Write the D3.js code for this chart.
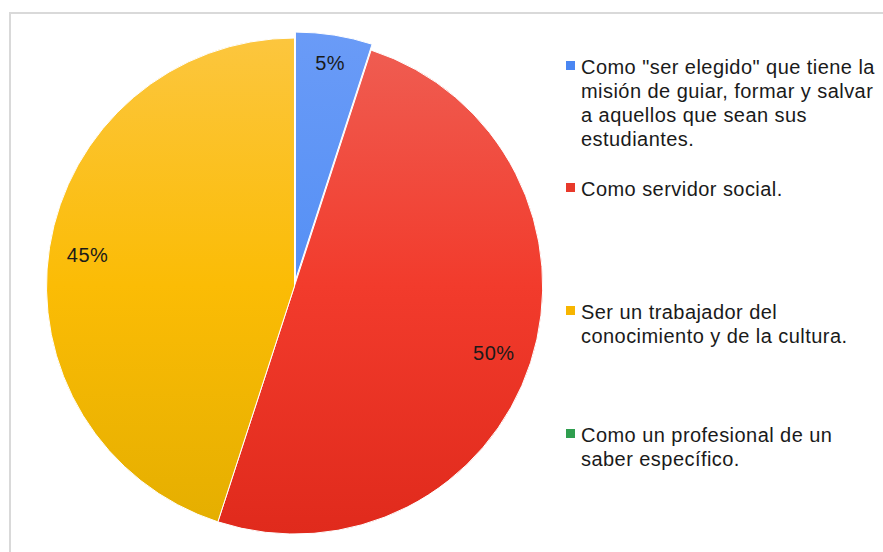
<!DOCTYPE html>
<html>
<head>
<meta charset="utf-8">
<script src="https://cdn.jsdelivr.net/npm/d3@7"></script>
<style>
  html, body { margin: 0; padding: 0; background: #fff; }
  svg { display: block; }
</style>
</head>
<body>
<svg id="chart" width="883" height="552"></svg>
<script>
const categories = [
  'Como "ser elegido" que tiene la misión de guiar, formar y salvar a aquellos que sean sus estudiantes.',
  'Como servidor social.',
  'Ser un trabajador del conocimiento y de la cultura.',
  'Como un profesional de un saber específico.'
];
const legendLines = [
  ['Como "ser elegido" que tiene la', 'misión de guiar, formar y salvar', 'a aquellos que sean sus', 'estudiantes.'],
  ['Como servidor social.'],
  ['Ser un trabajador del', 'conocimiento y de la cultura.'],
  ['Como un profesional de un', 'saber específico.']
];
const values = [5, 50, 45, 0];
const colorsTop = ['#6a9bf7', '#ef5e53', '#fcc63e', '#34a853'];
const colorsMid = ['#5590f5', '#f23b2c', '#fbbc05', '#2f9e4f'];
const colorsBottom = ['#3f7fef', '#e02a1c', '#e4ae00', '#2a9246'];
const legendColors = ['#4a86f2', '#e8392b', '#f7b500', '#2f9e4f'];

const svg = d3.select('#chart');
const font = '"Liberation Sans", Arial, sans-serif';

// frame
svg.append('path')
  .attr('d', 'M10,560 L10,13 L900,13')
  .attr('fill', 'none')
  .attr('stroke', '#d9d9d9')
  .attr('stroke-width', 2);

const cx = 294.5, cy = 286, r = 248;
const defs = svg.append('defs');
values.forEach((v, i) => {
  const gr = defs.append('linearGradient')
    .attr('id', 'grad' + i)
    .attr('gradientUnits', 'userSpaceOnUse')
    .attr('x1', 0).attr('y1', -r).attr('x2', 0).attr('y2', r);
  gr.append('stop').attr('offset', '0%').attr('stop-color', colorsTop[i]);
  gr.append('stop').attr('offset', '50%').attr('stop-color', colorsMid[i]);
  gr.append('stop').attr('offset', '100%').attr('stop-color', colorsBottom[i]);
});

const pie = d3.pie().sort(null).value(d => d);
const arcs = pie(values);
const arc = d3.arc().innerRadius(0).outerRadius(r);

const g = svg.append('g').attr('transform', `translate(${cx},${cy})`);
const explode = [6, 0, 0, 0];

arcs.forEach((a, i) => {
  if (a.value <= 0) return;
  const mid = (a.startAngle + a.endAngle) / 2;
  const dx = explode[i] * Math.sin(mid), dy = -explode[i] * Math.cos(mid);
  g.append('g').attr('transform', `translate(${dx},${dy})`)
    .append('path')
    .attr('d', arc(a))
    .attr('fill', `url(#grad${i})`)
    .attr('stroke', '#ffffff')
    .attr('stroke-width', 1);
});

arcs.forEach((a, i) => {
  if (a.value <= 0) return;
  const mid = (a.startAngle + a.endAngle) / 2;
  const span = a.endAngle - a.startAngle;
  const rho = span < 0.6 ? r * 0.895 : r * 0.845;
  const x = (rho + explode[i]) * Math.sin(mid);
  const y = -(rho + explode[i]) * Math.cos(mid);
  g.append('text')
    .attr('x', x).attr('y', y + 2)
    .attr('dy', '0.35em')
    .attr('text-anchor', 'middle')
    .attr('font-family', font)
    .attr('font-size', 20)
    .attr('letter-spacing', 0.5)
    .attr('fill', '#1a1a1a')
    .text(d3.format('.0%')(a.value / d3.sum(values)));
});

// legend
const legendX = 566;
const firstBaselines = [74, 196, 319, 442];
const lineH = 24;
legendLines.forEach((lines, i) => {
  const lg = svg.append('g');
  lg.append('rect')
    .attr('x', legendX).attr('y', firstBaselines[i] - 13)
    .attr('width', 9).attr('height', 9)
    .attr('fill', legendColors[i]);
  const t = lg.append('text')
    .attr('font-family', font)
    .attr('font-size', 20)
    .attr('letter-spacing', 0.45)
    .attr('fill', '#1a1a1a');
  lines.forEach((ln, j) => {
    t.append('tspan').attr('x', legendX + 15).attr('y', firstBaselines[i] + j * lineH).text(ln);
  });
});
</script>
</body>
</html>
